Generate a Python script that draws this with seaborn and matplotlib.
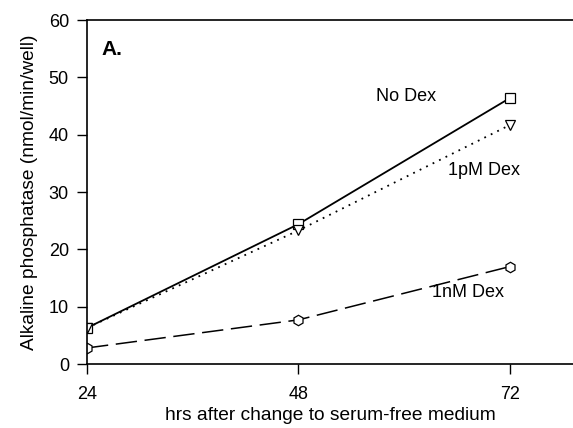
import matplotlib
matplotlib.use("Agg")
import matplotlib.pyplot as plt
import seaborn as sns

# 측정 시간 (hrs) 과 각 조건별 alkaline phosphatase 값
hours = [24, 48, 72]
no_dex = [6.3, 24.4, 46.4]
pm_dex = [6.3, 23.3, 41.7]
nm_dex = [2.8, 7.7, 17.0]

sns.set_style('white')
plt.rcParams['font.family'] = ['Liberation Sans', 'DejaVu Sans']
plt.rcParams['text.color'] = 'black'
plt.rcParams['axes.labelcolor'] = 'black'
plt.rcParams['xtick.color'] = 'black'
plt.rcParams['ytick.color'] = 'black'

fig = plt.figure(figsize=(5.73, 4.28), dpi=100)
ax = fig.add_axes([0.1518, 0.1495, 0.8482, 0.8037])

sns.lineplot(x=hours, y=no_dex, ax=ax, color='black', lw=1.3, linestyle='-',
             marker='s', markersize=6.5, markerfacecolor='white', markeredgecolor='black', markeredgewidth=0.9)
sns.lineplot(x=hours, y=pm_dex, ax=ax, color='black', lw=1.3, linestyle=(0, (1, 3)),
             marker='v', markersize=7, markerfacecolor='white', markeredgecolor='black', markeredgewidth=0.9)
sns.lineplot(x=hours, y=nm_dex, ax=ax, color='black', lw=1.1, linestyle=(0, (14, 5)),
             marker='h', markersize=7.5, markerfacecolor='white', markeredgecolor='black', markeredgewidth=0.9)

ax.set_xlim(24, 79.15)
ax.set_ylim(0, 60)
ax.set_xticks(hours)
ax.set_yticks(range(0, 61, 10))
ax.tick_params(axis='both', direction='out', length=7, width=1, labelsize=13,
               bottom=True, left=True)
ax.tick_params(axis='x', pad=9)
ax.tick_params(axis='y', pad=6)
for s in ['left', 'bottom', 'top']:
    ax.spines[s].set_color('black')
    ax.spines[s].set_linewidth(1.2)
ax.spines['right'].set_visible(False)

ax.set_xlabel('hrs after change to serum-free medium', fontsize=13.8, labelpad=3)
ax.set_ylabel('Alkaline phosphatase (nmol/min/well)', fontsize=13.8, labelpad=8)

ax.text(25.67, 54.8, 'A.', fontsize=15, fontweight='bold', va='center')
ax.text(60.2, 46.6, 'No Dex', fontsize=13, ha='center', va='center')
ax.text(69.0, 33.8, '1pM Dex', fontsize=13, ha='center', va='center')
ax.text(67.2, 12.4, '1nM Dex', fontsize=13, ha='center', va='center')

fig.savefig('out.png', dpi=100)
